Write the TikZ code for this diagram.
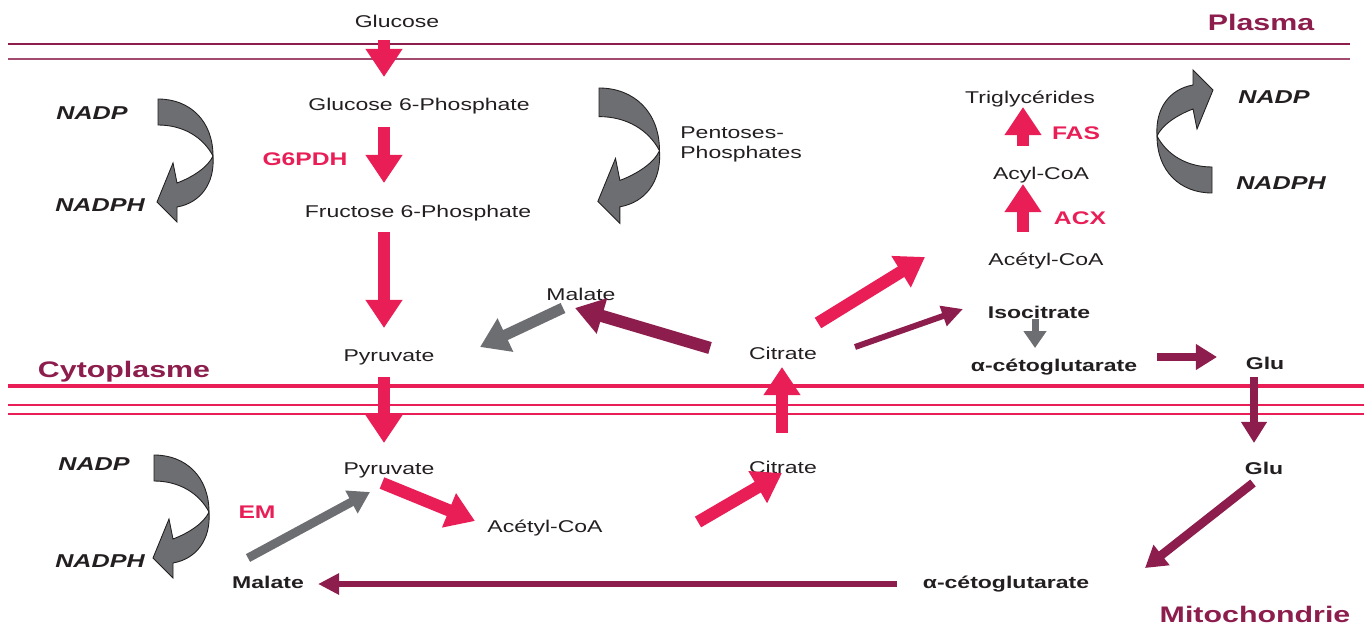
\documentclass[tikz,border=0pt]{standalone}
\usepackage{fontspec}
\setmainfont{Liberation Sans}[FakeStretch=1.35]
\usetikzlibrary{arrows.meta}

\definecolor{pinkc}{HTML}{E91E56}
\definecolor{maroonc}{HTML}{8C1D4C}
\definecolor{greyc}{HTML}{6D6E71}
\definecolor{textc}{HTML}{231F20}

\tikzset{
  lbl/.style={inner sep=0pt, text height=7pt, text depth=0pt, text=textc, font=\fontsize{9.7}{11.3}\selectfont},
  blbl/.style={lbl, font=\fontsize{9.7}{11.3}\selectfont\bfseries},
  zone/.style={inner sep=0pt, text height=9.2pt, text depth=0pt, text=maroonc, font=\fontsize{12.8}{15}\selectfont\bfseries},
  enz/.style={inner sep=0pt, text height=7.5pt, text depth=0pt, text=pinkc, font=\fontsize{10.4}{12}\selectfont\bfseries},
  cofac/.style={inner sep=0pt, text height=7.6pt, text depth=0pt, text=textc, font=\fontsize{10.6}{12}\selectfont\bfseries\itshape},
  bigarr/.style={line width=7pt, -{Triangle[length=16pt,width=20pt]}},
  medarr/.style={line width=5pt, -{Triangle[length=12pt,width=14pt]}},
  thinarr/.style={line width=3.4pt, -{Triangle[length=12pt,width=11.5pt]}},
  bent/.pic={
    \filldraw[fill=greyc, draw=textc, line width=0.5pt]
      (0,0) .. controls (32,0) and (55,22) .. (55,57)
      .. controls (45,38) and (25,26) .. (0,26) -- cycle;
    \filldraw[fill=greyc, draw=textc, line width=0.5pt]
      (55,57) .. controls (57,85) and (42,104) .. (19,108)
      -- (19,123) -- (-1,103) -- (15,64) -- (19,84)
      .. controls (35,78) and (50,68) .. (55,57) -- cycle;
  }
}

\begin{document}
\begin{tikzpicture}[x=0.02cm, y=-0.02cm]
  \useasboundingbox (0,0) rectangle (1364,628);

  % membranes
  \draw[maroonc, line width=1.2pt] (8,44) -- (1350,44);
  \draw[maroonc!80, line width=1.1pt] (8,59) -- (1350,59);
  \draw[pinkc, line width=2.4pt] (8,386) -- (1364,386);
  \draw[pinkc, line width=0.8pt] (8,405) -- (1364,405);
  \draw[pinkc, line width=0.8pt] (8,414) -- (1364,414);

  % labels
  \node[lbl] (glucose) at (397,21) {Glucose};
  \node[lbl] (gsixp) at (419,104) {Glucose 6-Phosphate};
  \node[enz] (gpdh) at (305,159) {G6PDH};
  \node[lbl] (fsixp) at (418,211) {Fructose 6-Phosphate};
  \node[lbl, text height=, align=left, anchor=west] (pentoses) at (680,143) {Pentoses-\\Phosphates};
  \node[lbl] (pyrtop) at (389,355) {Pyruvate};
  \node[lbl] (maltop) at (581,294) {Malate};
  \node[lbl] (cittop) at (783,353) {Citrate};
  \node[lbl] (acetop) at (1046,259) {Acétyl-CoA};
  \node[lbl] (acyl) at (1041,173) {Acyl-CoA};
  \node[lbl] (trig) at (1030,97) {Triglycérides};
  \node[enz] (fas) at (1076,133) {FAS};
  \node[enz] (acx) at (1080,218) {ACX};
  \node[blbl] (isocit) at (1039,312) {Isocitrate};
  \node[blbl] (akgtop) at (1054,365) {α-cétoglutarate};
  \node[blbl] (glutop) at (1265,363) {Glu};
  \node[zone] (plasma) at (1261,22) {Plasma};
  \node[zone] (cyto) at (124,369) {Cytoplasme};
  \node[cofac] (nadpa) at (92,113) {NADP};
  \node[cofac] (nadpha) at (100,205) {NADPH};
  \node[cofac] (nadpb) at (1274,97) {NADP};
  \node[cofac] (nadphb) at (1281,183) {NADPH};
  \node[cofac] (nadpc) at (94,464) {NADP};
  \node[cofac] (nadphc) at (100,561) {NADPH};
  \node[enz] (em) at (257,512) {EM};
  \node[blbl] (malbot) at (268,582) {Malate};
  \node[lbl] (pyrbot) at (389,468) {Pyruvate};
  \node[lbl] (acebot) at (545,526) {Acétyl-CoA};
  \node[lbl] (citbot) at (783,467) {Citrate};
  \node[blbl] (glubot) at (1264,468) {Glu};
  \node[blbl] (akgbot) at (1006,582) {α-cétoglutarate};
  \node[zone] (mito) at (1255,614) {Mitochondrie};

  % NADP/NADPH cycles
  \pic at (158,99) {bent};
  \pic[scale=1.1] at (599,88) {bent};
  \pic at (154,455) {bent};
  \pic[rotate=180] at (1212,193) {bent};

  % pink flux
  \draw[bigarr, pinkc] ([shift={(-13,19)}]glucose.center) -- ([shift={(-35,-27)}]gsixp.center);
  \draw[bigarr, pinkc] ([shift={(-35,23)}]gsixp.center) -- ([shift={(-34,-28)}]fsixp.center);
  \draw[bigarr, pinkc] ([shift={(-34,21)}]fsixp.center) -- ([shift={(-5,-27)}]pyrtop.center);
  \draw[bigarr, pinkc] ([shift={(-5,22)}]pyrtop.center) -- ([shift={(-5,-25)}]pyrbot.center);
  \draw[bigarr, pinkc] ([shift={(-7,15)}]pyrbot.center) -- ([shift={(-70,-5)}]acebot.center);
  \draw[bigarr, pinkc] ([shift={(153,-4)}]acebot.center) -- ([shift={(-1,6)}]citbot.center);
  \draw[bigarr, pinkc] ([shift={(-1,-34)}]citbot.center) -- ([shift={(-1,14)}]cittop.center);
  \draw[bigarr, pinkc] ([shift={(35,-30)}]cittop.center) -- ([shift={(-121,-2)}]acetop.center);
  \draw[bigarr, pinkc] ([shift={(-23,-27)}]acetop.center) -- ([shift={(-18,11)}]acyl.center);
  \draw[bigarr, pinkc] ([shift={(-18,-27)}]acyl.center) -- ([shift={(-7,10)}]trig.center);

  % maroon flux
  \draw[bigarr, maroonc] ([shift={(-73,-5)}]cittop.center) -- ([shift={(-6,14)}]maltop.center);
  \draw[thinarr, maroonc] ([shift={(72,-6)}]cittop.center) -- ([shift={(-76,-3)}]isocit.center);
  \draw[medarr, maroonc] ([shift={(103,-8)}]akgtop.center) -- ([shift={(-48,-6)}]glutop.center);
  \draw[medarr, maroonc] ([shift={(-11,14)}]glutop.center) -- ([shift={(-10,-25)}]glubot.center);
  \draw[medarr, maroonc] ([shift={(-11,15)}]glubot.center) -- ([shift={(139,-14)}]akgbot.center);
  \draw[thinarr, maroonc] ([shift={(-109,2)}]akgbot.center) -- ([shift={(50,2)}]malbot.center);

  % grey flux
  \draw[bigarr, greyc, line width=6.3pt] ([shift={(-18,14)}]maltop.center) -- ([shift={(91,-8)}]pyrtop.center);
  \draw[medarr, greyc] ([shift={(-20,-24)}]malbot.center) -- ([shift={(-19,24)}]pyrbot.center);
  \draw[greyc, line width=4pt, -{Triangle[length=9.6pt,width=12.5pt]}] ([shift={(-4,7)}]isocit.center) -- ([shift={(-19,-17)}]akgtop.center);
\end{tikzpicture}
\end{document}
